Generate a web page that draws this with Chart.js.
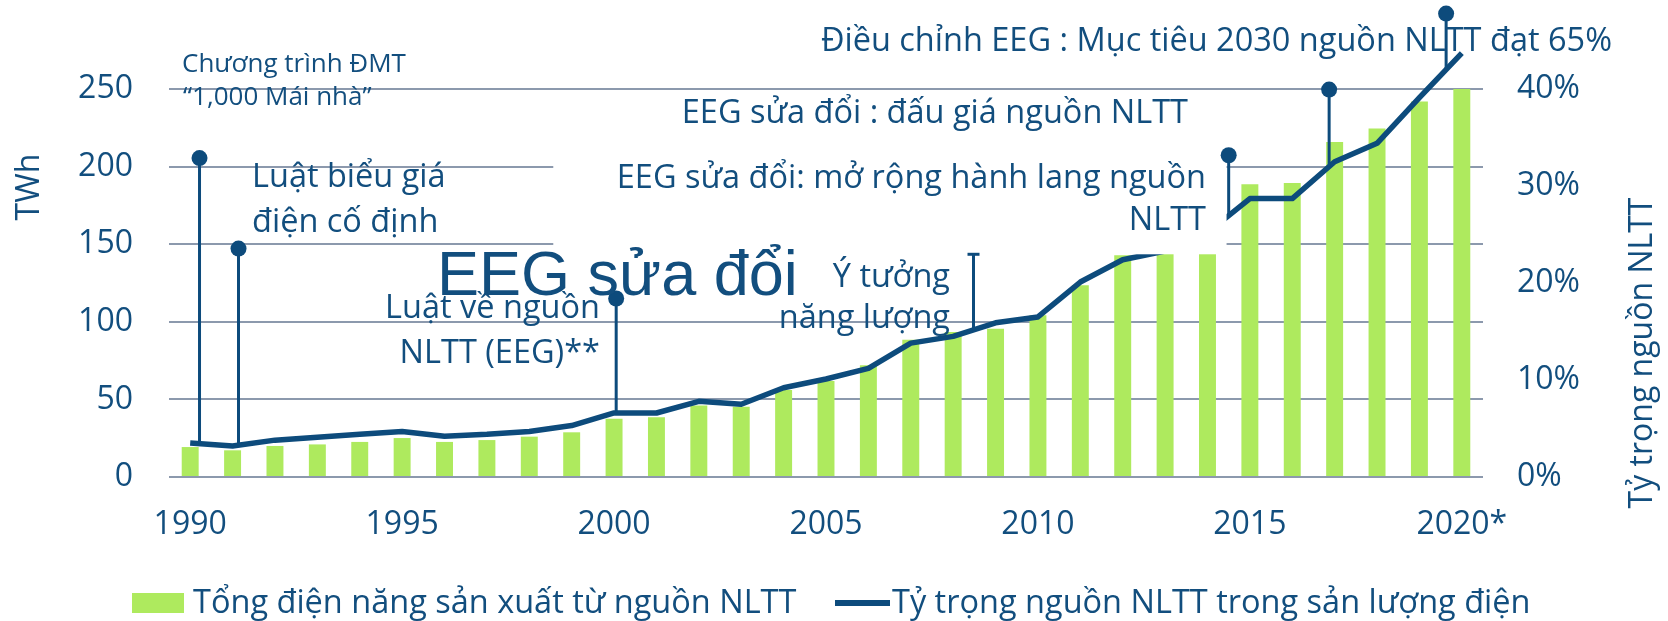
<!DOCTYPE html>
<html>
<head>
<meta charset="utf-8">
<script src="https://cdn.jsdelivr.net/npm/chart.js@4.4.1/dist/chart.umd.min.js"></script>
<style>
  html, body { margin: 0; padding: 0; background: #fff; }
  #wrap { width: 1668px; height: 621px; }
</style>
</head>
<body>
<div id="wrap"><canvas id="myChart" width="1668" height="621"></canvas></div>
<script>
// categories
const years = ['1990', '1991', '1992', '1993', '1994', '1995', '1996', '1997', '1998', '1999',
  '2000', '2001', '2002', '2003', '2004', '2005', '2006', '2007', '2008', '2009',
  '2010', '2011', '2012', '2013', '2014', '2015', '2016', '2017', '2018', '2019', '2020*'];

// TWh, left axis
const renewableTWh = [19.3, 17.2, 20, 21, 22.6, 25.1, 22.6, 23.8, 26, 28.8,
  37.6, 38.5, 46, 45.3, 56, 61.8, 72, 88.5, 93.4, 95.6,
  104.2, 123.5, 142.8, 144, 144, 188.6, 189.4, 215.9, 224.5, 242, 251];

// %, right axis
const renewableShare = [3.5, 3.2, 3.8, 4.1, 4.4, 4.7, 4.2, 4.4, 4.7, 5.3,
  6.6, 6.6, 7.8, 7.5, 9.2, 10.1, 11.2, 13.8, 14.5, 15.9,
  16.5, 20.1, 22.4, 23.3, 25.2, 28.7, 28.7, 32.5, 34.4, 39.1, 43.7];

// policy markers: position (in category steps from 1990) and top of the stem (TWh)
const eventPos = [0.22, 1.14, 10.05, 18.48, 24.5, 26.87, 29.63];
const eventTop = [205.5, 147.2, 115, 143.5, 207.3, 249.6, 298.6];
const eventCap = [false, false, false, true, false, false, false];

const navy = '#0d4b7c';
const textBlue = '#124e7e';
const green = '#aeea5e';
const gridGrey = '#8c99ad';
const FONT = "'Open Sans', 'Noto Sans', sans-serif";

// annotation texts (pixel layout)
const notes = [
  { t: 'Chương trình ĐMT', x: 182, y: 72, size: 26 },
  { t: '“1,000 Mái nhà”', x: 183, y: 105, size: 26 },
  { t: 'Luật biểu giá', x: 252, y: 187 },
  { t: 'điện cố định', x: 252, y: 232 },
  { t: 'EEG sửa đổi', x: 437, y: 295, size: 63, family: "'Liberation Sans', Arial, sans-serif" },
  { t: 'Luật về nguồn', x: 600, y: 318, align: 'right' },
  { t: 'NLTT (EEG)**', x: 600, y: 363, align: 'right' },
  { t: 'Ý tưởng', x: 950, y: 287, align: 'right' },
  { t: 'năng lượng', x: 950, y: 328, align: 'right' },
  { t: 'EEG sửa đổi: mở rộng hành lang nguồn', x: 1206, y: 188, align: 'right' },
  { t: 'NLTT', x: 1206, y: 230, align: 'right' },
  { t: 'EEG sửa đổi : đấu giá nguồn NLTT', x: 1188, y: 123, align: 'right' },
  { t: 'Điều chỉnh EEG : Mục tiêu 2030 nguồn NLTT đạt 65%', x: 1612, y: 51, align: 'right' }
];

const decor = {
  id: 'decor',
  afterDatasetsDraw(chart) {
    const { ctx, scales: { x, y, y1 } } = chart;
    const step = x.getPixelForValue(1) - x.getPixelForValue(0);
    const px = p => x.getPixelForValue(0) + p * step;
    ctx.save();

    // white box behind the middle texts (hides grid + part of the line)
    const bx0 = px(8.566), bx1 = px(24.45);
    const by0 = y.getPixelForValue(242), by1 = y.getPixelForValue(143.5);
    ctx.fillStyle = '#fff';
    ctx.fillRect(bx0, by0, bx1 - bx0, by1 - by0);

    // stems
    ctx.strokeStyle = navy;
    ctx.fillStyle = navy;
    ctx.lineWidth = 3;
    eventPos.forEach((p, i) => {
      const sx = px(p);
      const k = Math.floor(p), f = p - k;
      const a = renewableShare[k], b = renewableShare[k + 1] ?? a;
      const yb = y1.getPixelForValue(a + f * (b - a));
      const yt = y.getPixelForValue(eventTop[i]);
      ctx.beginPath();
      ctx.moveTo(sx, yb);
      ctx.lineTo(sx, yt);
      ctx.stroke();
      ctx.beginPath();
      if (eventCap[i]) {
        ctx.moveTo(sx - 6, yt);
        ctx.lineTo(sx + 6, yt);
        ctx.stroke();
      } else {
        ctx.arc(sx, yt, 8, 0, Math.PI * 2);
        ctx.fill();
      }
    });
    ctx.restore();
  },
  afterDraw(chart) {
    const ctx = chart.ctx;
    ctx.save();
    ctx.fillStyle = textBlue;
    ctx.textBaseline = 'alphabetic';

    notes.forEach(n => {
      ctx.font = (n.size || 32.5) + 'px ' + (n.family || FONT);
      ctx.textAlign = n.align || 'left';
      ctx.fillText(n.t, n.x, n.y);
    });

    // axis titles
    ctx.font = '32px ' + FONT;
    ctx.textAlign = 'center';
    ctx.save();
    ctx.translate(38.5, 187);
    ctx.rotate(-Math.PI / 2);
    ctx.fillText('TWh', 0, 0);
    ctx.restore();
    ctx.save();
    ctx.translate(1652, 353);
    ctx.rotate(-Math.PI / 2);
    ctx.fillText('Tỷ trọng nguồn NLTT', 0, 0);
    ctx.restore();

    // legend
    const barSet = chart.data.datasets.find(d => d.type !== 'line');
    const lineSet = chart.data.datasets.find(d => d.type === 'line');
    ctx.font = '32.5px ' + FONT;
    ctx.textAlign = 'left';
    ctx.fillStyle = barSet.backgroundColor;
    ctx.fillRect(132, 593, 52, 20);
    ctx.fillStyle = textBlue;
    ctx.fillText(barSet.label, 193, 613);
    ctx.strokeStyle = lineSet.borderColor;
    ctx.lineWidth = 6;
    ctx.beginPath();
    ctx.moveTo(835, 603);
    ctx.lineTo(890, 603);
    ctx.stroke();
    ctx.fillText(lineSet.label, 892, 613);
    ctx.restore();
  }
};

const config = {
  type: 'bar',
  data: {
    labels: years,
    datasets: [
      {
        type: 'line',
        label: 'Tỷ trọng nguồn NLTT trong sản lượng điện',
        data: renewableShare,
        yAxisID: 'y1',
        borderColor: navy,
        backgroundColor: navy,
        borderWidth: 5.5,
        pointRadius: 0,
        tension: 0,
        borderJoinStyle: 'round',
        clip: false,
        order: 1
      },
      {
        label: 'Tổng điện năng sản xuất từ nguồn NLTT',
        data: renewableTWh,
        yAxisID: 'y',
        backgroundColor: green,
        barPercentage: 0.4,
        categoryPercentage: 1.0,
        order: 2
      }
    ]
  },
  options: {
    responsive: false,
    animation: false,
    devicePixelRatio: 1,
    layout: { padding: { top: 89, left: 0, right: 0, bottom: 0 } },
    plugins: {
      legend: { display: false },
      tooltip: { enabled: false }
    },
    scales: {
      x: {
        grid: { display: false, drawTicks: false },
        border: { display: false },
        ticks: {
          autoSkip: false,
          maxRotation: 0,
          padding: 29,
          color: textBlue,
          font: { family: FONT, size: 32 },
          callback: function (val, idx) { return idx % 5 === 0 ? this.getLabelForValue(val) : ''; }
        },
        afterFit: s => { s.height = 144; }
      },
      y: {
        position: 'left',
        min: 0,
        max: 250,
        grid: { color: gridGrey, lineWidth: 2, drawTicks: false },
        border: { display: false },
        ticks: { stepSize: 50, padding: 36, color: textBlue, font: { family: FONT, size: 32 } },
        afterFit: s => { s.width = 169; }
      },
      y1: {
        position: 'right',
        min: 0,
        max: 40,
        grid: { display: false, drawTicks: false },
        border: { display: false },
        ticks: {
          stepSize: 10,
          padding: 34,
          color: textBlue,
          font: { family: FONT, size: 32 },
          callback: v => v + '%'
        },
        afterFit: s => { s.width = 185; }
      }
    }
  },
  plugins: [decor]
};

const myChart = new Chart(document.getElementById('myChart'), config);
</script>
</body>
</html>
